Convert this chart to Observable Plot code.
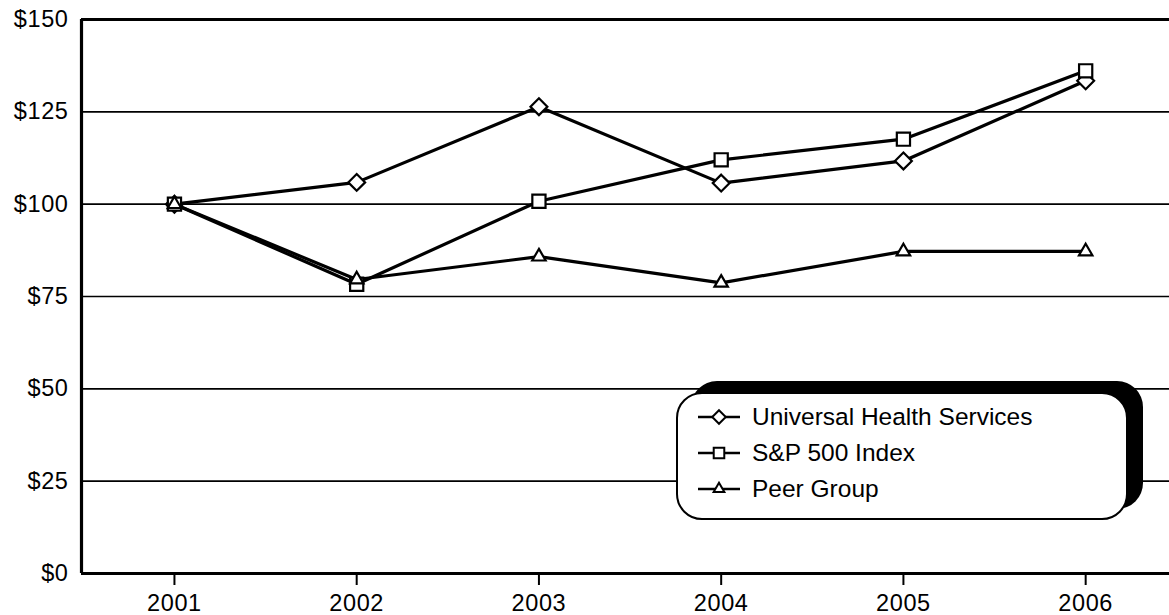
<!DOCTYPE html>
<html>
<head>
<meta charset="utf-8">
<script src="https://cdn.jsdelivr.net/npm/d3@7"></script>
<script src="https://cdn.jsdelivr.net/npm/@observablehq/plot@0.6"></script>
<style>
  html, body { margin: 0; padding: 0; background: #fff; }
  #wrap { position: relative; width: 1169px; height: 615px; overflow: hidden; font-family: "Liberation Sans", Arial, Helvetica, sans-serif; }
  #chart svg text { font-size: 23.5px; letter-spacing: 0.6px; fill: #000; }
  #legend { position: absolute; left: 676px; top: 392px; width: 448px; height: 124px; border: 2px solid #000; border-radius: 26px; background: #fff; box-shadow: 15px -11px 0 0 #000; }
  .row { position: absolute; left: 18px; height: 30px; display: flex; align-items: center; font-size: 24.5px; color: #000; }
  .row svg { margin-right: 10px; }
</style>
</head>
<body>
<div id="wrap"><div id="chart"></div><div id="legend"></div></div>
<script>
const years = [2001, 2002, 2003, 2004, 2005, 2006];
const uhs = [100, 105.9, 126.4, 105.7, 111.7, 133.4];
const sp500 = [100, 78.3, 100.8, 112.0, 117.6, 136.1];
const peer = [100, 79.6, 85.8, 78.7, 87.2, 87.2];
const seriesNames = ["Universal Health Services", "S&P 500 Index", "Peer Group"];
const seriesSymbols = ["diamond2", "square2", "triangle2"];
const seriesR = [7.6, 8.4, 6.4];
const yTicks = [0, 25, 50, 75, 100, 125, 150];
const gridTicks = [25, 50, 75, 100, 125];

const seriesValues = [uhs, sp500, peer];
const table = seriesValues.map((vals, i) => years.map((yr, j) => ({year: yr, value: vals[j], series: seriesNames[i]})));

const marks = [
  Plot.ruleY(gridTicks, {stroke: "#000", strokeWidth: 1.6}),
  Plot.ruleY([150], {stroke: "#000", strokeWidth: 3}),
  Plot.ruleY([0], {stroke: "#000", strokeWidth: 3.2}),
  Plot.ruleX([2000.49], {stroke: "#000", strokeWidth: 3.2}),
  Plot.axisX(years, {anchor: "bottom", label: null, tickFormat: d => String(d), tickSize: 12, tickPadding: 9, strokeWidth: 2}),
  Plot.axisY(yTicks, {anchor: "left", label: null, tickFormat: d => "$" + d, tickSize: 0, tickPadding: 13})
];
table.forEach((rows, i) => {
  marks.push(Plot.line(rows, {x: "year", y: "value", stroke: "#000", strokeWidth: 3.2}));
});
table.forEach((rows, i) => {
  marks.push(Plot.dot(rows, {x: "year", y: "value", symbol: () => seriesSymbols[i], r: seriesR[i], fill: "#fff", stroke: "#000", strokeWidth: 2.2}));
});

const chart = Plot.plot({
  width: 1169,
  height: 615,
  marginLeft: 81,
  marginRight: 0,
  marginTop: 19,
  marginBottom: 42,
  x: {domain: [2000.49, 2006.46], axis: null},
  y: {domain: [0, 150], axis: null},
  style: {fontFamily: "Liberation Sans, Arial, Helvetica, sans-serif", fontSize: "23px", color: "#000", background: "#fff", overflow: "visible"},
  marks
});
document.getElementById("chart").appendChild(chart);

// Legend
const legend = document.getElementById("legend");
const rowTops = [8, 44, 80];
seriesNames.forEach((name, i) => {
  const row = document.createElement("div");
  row.className = "row";
  row.style.top = rowTops[i] + "px";
  const svg = d3.create("svg").attr("width", 46).attr("height", 30);
  svg.append("line").attr("x1", 2).attr("x2", 44).attr("y1", 15).attr("y2", 15).attr("stroke", "#000").attr("stroke-width", 2.5);
  const sym = {diamond2: d3.symbolDiamond2, square2: d3.symbolSquare2, triangle2: d3.symbolTriangle2}[seriesSymbols[i]];
  svg.append("path").attr("transform", "translate(23,15)")
    .attr("d", d3.symbol(sym, Math.PI * (seriesR[i] * 0.8) ** 2)())
    .attr("fill", "#fff").attr("stroke", "#000").attr("stroke-width", 2);
  row.appendChild(svg.node());
  const span = document.createElement("span");
  span.textContent = name;
  row.appendChild(span);
  legend.appendChild(row);
});
</script>
</body>
</html>
